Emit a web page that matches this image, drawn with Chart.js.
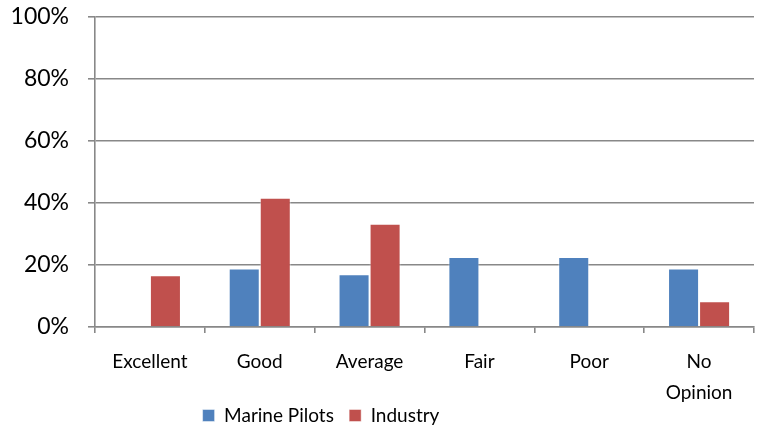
<!DOCTYPE html>
<html>
<head>
<meta charset="utf-8">
<script src="https://cdn.jsdelivr.net/npm/chart.js@4/dist/chart.umd.min.js"></script>
<style>
  html, body { margin: 0; padding: 0; background: #fff; }
  #wrap { width: 763px; height: 431px; }
</style>
</head>
<body>
<div id="wrap"><canvas id="chart" width="763" height="431"></canvas></div>
<script>
// Categories and series (percent of respondents)
var categories = ["Excellent", "Good", "Average", "Fair", "Poor", ["No", "Opinion"]];
var marinePilots = [0, 18.9, 17.0, 22.6, 22.6, 18.9];
var industry = [16.7, 41.7, 33.3, 0, 0, 8.3];
var yTicks = [0, 20, 40, 60, 80, 100];

var axisGray = "#888888";
var fontFamily = "Lato, 'Open Sans', sans-serif";

// Legend sits left of centre in the original, nudge it after layout
var legendShift = {
  id: "legendShift",
  afterLayout: function(chart) {
    var lg = chart.legend;
    lg.left -= 56;
    lg.right -= 56;
  }
};

var ctx = document.getElementById("chart").getContext("2d");

var chart = new Chart(ctx, {
  type: "bar",
  data: {
    labels: categories,
    datasets: [
      {
        label: "Marine Pilots",
        data: marinePilots,
        backgroundColor: "#4f81bd",
        borderColor: "rgba(255,255,255,0.45)",
        borderWidth: 1,
        categoryPercentage: 0.565,
        barPercentage: 1.0
      },
      {
        label: "Industry",
        data: industry,
        backgroundColor: "#c0504d",
        borderColor: "rgba(255,255,255,0.45)",
        borderWidth: 1,
        categoryPercentage: 0.565,
        barPercentage: 1.0
      }
    ]
  },
  plugins: [legendShift],
  options: {
    responsive: false,
    animation: false,
    layout: {
      padding: { top: 17, right: 9, bottom: 0, left: 0 }
    },
    plugins: {
      tooltip: { enabled: false },
      legend: {
        position: "bottom",
        maxHeight: 26,
        labels: {
          boxWidth: 12,
          boxHeight: 12,
          padding: 1,
          color: "#000",
          font: { family: fontFamily, size: 19 },
          generateLabels: function(chart) {
            var items = Chart.defaults.plugins.legend.labels.generateLabels(chart);
            items.forEach(function(it, i) {
              if (i < items.length - 1) it.text = it.text + "\u2003";
            });
            return items;
          }
        }
      }
    },
    scales: {
      x: {
        grid: {
          offset: true,
          drawOnChartArea: false,
          drawTicks: true,
          tickLength: 6,
          color: axisGray,
          lineWidth: 1.6
        },
        border: { display: true, color: axisGray, width: 1.6 },
        ticks: {
          color: "#000",
          font: { family: fontFamily, size: 19, lineHeight: 1.63 },
          padding: 13,
          maxRotation: 0,
          autoSkip: false
        },
        afterFit: function(scale) {
          scale.height = 78;
        }
      },
      y: {
        min: 0,
        max: 100,
        afterBuildTicks: function(scale) {
          scale.ticks = yTicks.map(function(v) { return { value: v }; });
        },
        grid: {
          color: axisGray,
          lineWidth: 1.6,
          drawTicks: true,
          tickLength: 7
        },
        border: { display: true, color: axisGray, width: 1.6 },
        ticks: {
          color: "#000",
          font: { family: fontFamily, size: 23 },
          padding: 19,
          callback: function(v) { return v + "%"; }
        },
        afterFit: function(scale) {
          scale.width = 95;
          scale.paddingTop = 0;
        }
      }
    }
  }
});
</script>
</body>
</html>
